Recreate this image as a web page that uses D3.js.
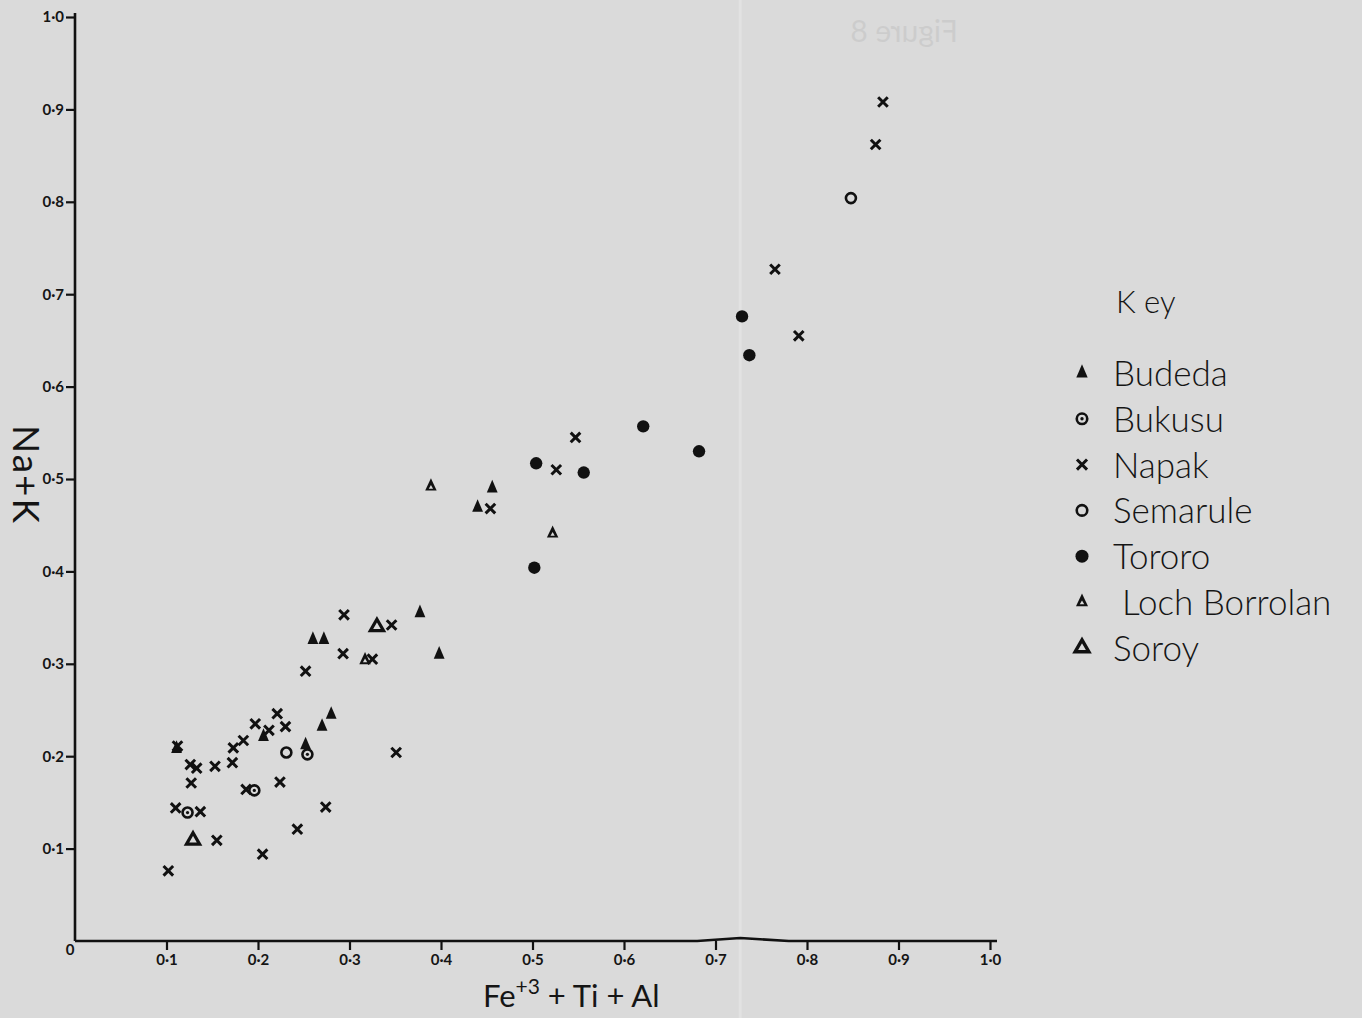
<!DOCTYPE html>
<html>
<head>
<meta charset="utf-8">
<script src="https://cdn.jsdelivr.net/npm/d3@7"></script>
<style>
  html, body { margin: 0; padding: 0; background: #dadada; }
  svg { display: block; }
  text { font-family: Lato, "Open Sans", sans-serif; fill: #151515; }
</style>
</head>
<body>
<script>
// values
let budeda = [[0.456,0.490],[0.440,0.469],[0.377,0.355],[0.260,0.326],[0.272,0.326],[0.398,0.310],
  [0.280,0.245],[0.270,0.232],[0.206,0.221],[0.252,0.212],[0.111,0.208]]
let bukusu = [[0.254,0.202],[0.196,0.163],[0.123,0.139]]
let napak = [[0.883,0.908],[0.875,0.862],[0.765,0.727],[0.791,0.655],[0.547,0.545],[0.526,0.510],
  [0.454,0.468],[0.294,0.353],[0.346,0.342],[0.293,0.311],[0.325,0.305],[0.252,0.292],[0.221,0.246],
  [0.197,0.235],[0.230,0.232],[0.212,0.228],[0.184,0.217],[0.173,0.209],[0.112,0.211],[0.351,0.204],
  [0.126,0.191],[0.133,0.187],[0.153,0.189],[0.172,0.193],[0.127,0.171],[0.224,0.172],[0.187,0.164],
  [0.110,0.144],[0.137,0.140],[0.274,0.145],[0.243,0.121],[0.155,0.109],[0.205,0.094],[0.102,0.076]]
let semarule = [[0.848,0.804],[0.231,0.204]]
let tororo = [[0.729,0.676],[0.737,0.634],[0.621,0.557],[0.682,0.530],[0.504,0.517],[0.556,0.507],[0.502,0.404]]
let lochBorrolan = [[0.389,0.492],[0.522,0.441],[0.317,0.304]]
let soroy = [[0.330,0.340],[0.129,0.109]]

let ticks = [0.1,0.2,0.3,0.4,0.5,0.6,0.7,0.8,0.9,1.0]
let tickLabels = ['0·1','0·2','0·3','0·4','0·5','0·6','0·7','0·8','0·9','1·0']
let keyNames = ['Budeda','Bukusu','Napak','Semarule','Tororo','Loch Borrolan','Soroy']
let keyShapes = ['tri','dotcircle','cross','circle','disc','holetri','opentri']

let w = 1362
let h = 1018
let svg = d3.select('body').append('svg').attr('width', w).attr('height', h)

let x = d3.scaleLinear().domain([0, 1]).range([75, 990])
let y = d3.scaleLinear().domain([0, 1]).range([941, 17])

// faint show-through of the page behind, and the fold crease
svg.append('text').attr('transform', 'translate(958,42) scale(-1,1)')
  .style('font-size', '30px').style('fill', '#000').style('opacity', 0.06).text('Figure 8')
svg.append('line').attr('x1', x(0.727)).attr('x2', x(0.727)).attr('y1', 0).attr('y2', h)
  .attr('stroke', '#e6e6e6').attr('stroke-width', 3).attr('opacity', 0.7)

// axes
let axisLine = d3.line()
svg.append('path')
  .attr('d', axisLine([[x(0), y(0)], [x(0.68), y(0)], [x(0.727), y(0) - 3], [x(0.78), y(0)], [x(1) + 7, y(0)]]))
  .attr('fill', 'none').attr('stroke', '#111').attr('stroke-width', 2.6)
svg.append('line').attr('x1', x(0)).attr('x2', x(0)).attr('y1', y(0)).attr('y2', y(1) - 4)
  .attr('stroke', '#111').attr('stroke-width', 2.6)

let xAxis = d3.axisBottom(x).tickValues(ticks).tickSize(9).tickPadding(4)
  .tickFormat((d, i) => tickLabels[i])
let gx = svg.append('g').attr('transform', 'translate(0,' + y(0) + ')').call(xAxis)
gx.select('.domain').remove()
gx.selectAll('line').attr('stroke', '#111').attr('stroke-width', 2.2)
gx.selectAll('text').style('font-size', '15px').style('font-weight', 'bold')

let yAxis = d3.axisLeft(y).tickValues(ticks).tickSize(9).tickPadding(2)
  .tickFormat((d, i) => tickLabels[i])
let gy = svg.append('g').attr('transform', 'translate(' + x(0) + ',0)').call(yAxis)
gy.select('.domain').remove()
gy.selectAll('line').attr('stroke', '#111').attr('stroke-width', 2.2)
gy.selectAll('text').style('font-size', '15px').style('font-weight', 'bold')

svg.append('text').attr('x', x(0) - 5).attr('y', y(0) + 14).attr('text-anchor', 'middle')
  .style('font-size', '15px').style('font-weight', 'bold').text('0')

// axis titles
let xt = svg.append('text').attr('x', 483).attr('y', 1007).style('font-size', '31px')
xt.append('tspan').text('Fe')
xt.append('tspan').attr('dy', -13).style('font-size', '21px').text('+3')
xt.append('tspan').attr('dy', 13).text(' + Ti + Al')

svg.append('text').attr('transform', 'translate(13,475) rotate(90)')
  .attr('text-anchor', 'middle').style('font-size', '37px').style('letter-spacing', '2px').text('Na+K')

// marker drawing
function drawMark(g, shape, s) {
  let tri = d3.symbol().type(d3.symbolTriangle).size(70 * s * s)
  if (shape == 'tri') {
    g.append('path').attr('d', tri()).attr('fill', '#111').attr('transform', 'scale(0.85,1.15)')
  } else if (shape == 'holetri') {
    g.append('path').attr('d', tri()).attr('fill', '#111').attr('transform', 'scale(0.9,1.1)')
    g.append('path').attr('d', d3.symbol().type(d3.symbolTriangle).size(8 * s * s)()).attr('fill', '#dadada')
      .attr('transform', 'translate(0,1)')
  } else if (shape == 'opentri') {
    g.append('path').attr('d', d3.symbol().type(d3.symbolTriangle).size(75 * s * s)()).attr('fill', 'none')
      .attr('stroke', '#111').attr('stroke-width', 3.2 * s)
  } else if (shape == 'cross') {
    let a = 4.8 * s
    g.append('path').attr('d', 'M' + -a + ',' + -a + 'L' + a + ',' + a + 'M' + a + ',' + -a + 'L' + -a + ',' + a)
      .attr('stroke', '#111').attr('stroke-width', 3).attr('fill', 'none')
  } else if (shape == 'circle') {
    g.append('circle').attr('r', 5 * s).attr('fill', 'none').attr('stroke', '#111').attr('stroke-width', 2.6)
  } else if (shape == 'dotcircle') {
    g.append('circle').attr('r', 5 * s).attr('fill', 'none').attr('stroke', '#111').attr('stroke-width', 2.6)
    g.append('circle').attr('r', 1.6 * s).attr('fill', '#111')
  } else if (shape == 'disc') {
    g.append('circle').attr('r', 6.2 * s).attr('fill', '#111')
  }
}

let series = [budeda, bukusu, napak, semarule, tororo, lochBorrolan, soroy]
series.forEach((data, k) => {
  svg.selectAll('g.s' + k)
    .data(data)
    .enter()
    .append('g')
    .attr('class', 's' + k)
    .attr('transform', d => 'translate(' + x(d[0]) + ',' + y(d[1]) + ')')
    .each(function () { drawMark(d3.select(this), keyShapes[k], 1) })
})

// key
svg.append('text').attr('x', 1116).attr('y', 313).style('font-size', '31px').style('font-weight', 300).text('K ey')
let key = svg.selectAll('g.key')
  .data(keyNames)
  .enter()
  .append('g')
  .attr('class', 'key')
  .attr('transform', (d, i) => 'translate(1082,' + (373 + i * 45.8) + ')')
key.each(function (d, i) { drawMark(d3.select(this), keyShapes[i], 1.05) })
key.append('text').attr('x', (d, i) => i == 5 ? 40 : 31).attr('y', 13)
  .style('font-size', '35px').style('font-weight', 300).text(d => d)
</script>
</body>
</html>
